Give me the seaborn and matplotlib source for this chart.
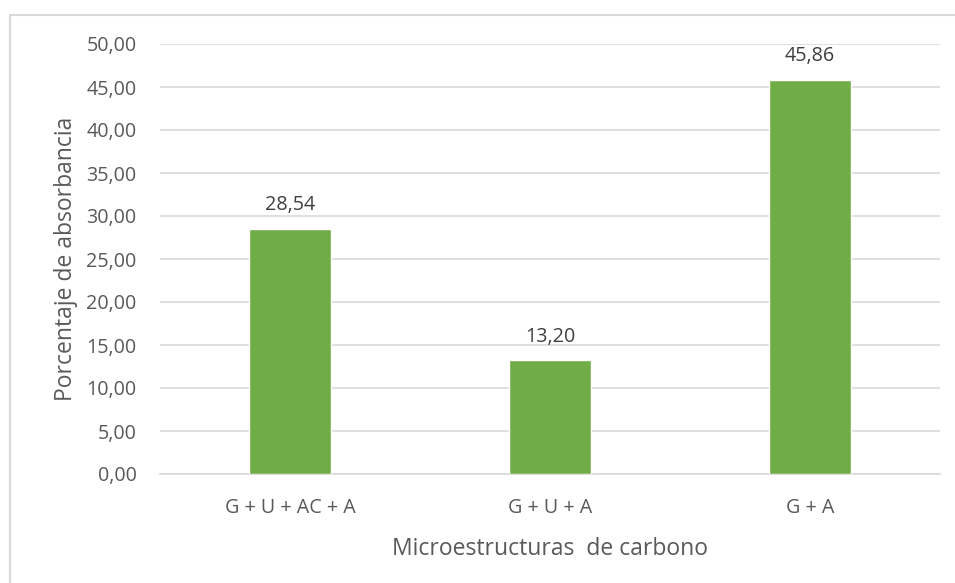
import matplotlib
matplotlib.use("Agg")
import matplotlib.pyplot as plt
import seaborn as sns
import pandas as pd
from matplotlib.patches import Rectangle

categories = ["G + U + AC + A", "G + U + A", "G + A"]
values = [28.54, 13.20, 45.86]
yticks = [0, 5, 10, 15, 20, 25, 30, 35, 40, 45, 50]

sns.set_theme(style="white")
plt.rcParams['font.family'] = ['Open Sans', 'DejaVu Sans']

df = pd.DataFrame({"cat": categories, "val": values})

W, H = 955, 583
fig = plt.figure(figsize=(W/100, H/100), dpi=100)
ax = fig.add_axes([160/W, 1-474/H, 780/W, 430/H])

sns.barplot(data=df, x="cat", y="val", color="#70ad47", width=0.315,
            saturation=1, ax=ax, zorder=3)

ax.set_ylim(0, 50)
ax.set_xlim(-0.5, 2.5)
ax.set_yticks(yticks)
ax.set_yticklabels([f"{v:.2f}".replace(".", ",") for v in yticks])
ax.yaxis.grid(True, color="#d9d9d9", linewidth=1.2, zorder=0)
ax.set_axisbelow(True)
for s in ["top", "right", "left"]:
    ax.spines[s].set_visible(False)
ax.spines["bottom"].set_color("#d9d9d9")
ax.spines["bottom"].set_linewidth(1.2)
ax.tick_params(axis="both", length=0, labelsize=14.2, colors="#595959")
ax.tick_params(axis="y", pad=17)
ax.tick_params(axis="x", pad=17)

for i, v in enumerate(values):
    ax.text(i, v + 1.6, f"{v:.2f}".replace(".", ","), ha="center", va="bottom",
            fontsize=14.2, color="#404040")

ax.set_xlabel("Microestructuras  de carbono", fontsize=16.5, color="#595959", labelpad=14)
ax.set_ylabel("Porcentaje de absorbancia", fontsize=16.5, color="#595959", labelpad=6)

fig.patches.append(Rectangle((9.5/W, -0.1), 2, 1 - 15.5/H + 0.1, transform=fig.transFigure,
                             fill=False, edgecolor="#d9d9d9", linewidth=1.5))

fig.savefig("out.png", dpi=100)
